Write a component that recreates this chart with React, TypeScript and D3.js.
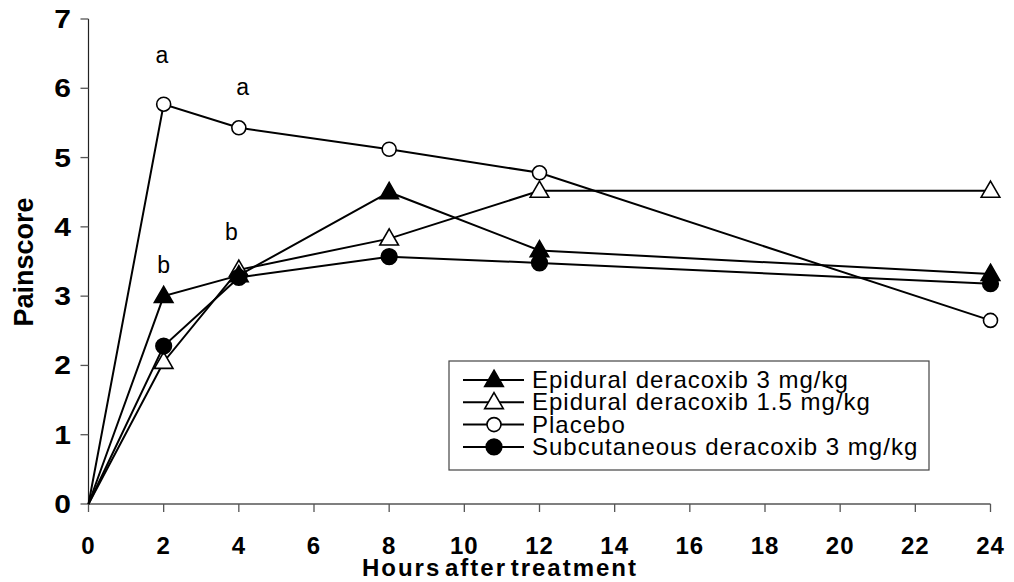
import React from "react";
import * as d3 from "d3";

const hours = [0, 2, 4, 8, 12, 24];
const epidural3 = [0, 3.0, 3.3, 4.5, 3.66, 3.32];
const epidural15 = [0, 2.05, 3.38, 3.83, 4.52, 4.52];
const placebo = [0, 5.77, 5.43, 5.12, 4.78, 2.65];
const subcutaneous = [0, 2.28, 3.27, 3.57, 3.48, 3.18];

const xTicks = [0, 2, 4, 6, 8, 10, 12, 14, 16, 18, 20, 22, 24];
const yTicks = [0, 1, 2, 3, 4, 5, 6, 7];

const annotations = [
  { label: "a", hour: 1.95, value: 6.36 },
  { label: "a", hour: 4.1, value: 5.91 },
  { label: "b", hour: 2.0, value: 3.33 },
  { label: "b", hour: 3.8, value: 3.81 },
];

type Marker = "triUp" | "triOpen" | "circOpen" | "circFilled";
const series: { name: string; values: number[]; marker: Marker }[] = [
  { name: "Placebo", values: placebo, marker: "circOpen" },
  { name: "Epidural deracoxib 1.5 mg/kg", values: epidural15, marker: "triOpen" },
  { name: "Epidural deracoxib 3 mg/kg", values: epidural3, marker: "triUp" },
  { name: "Subcutaneous deracoxib 3 mg/kg", values: subcutaneous, marker: "circFilled" },
];
const legendOrder = [
  "Epidural deracoxib 3 mg/kg",
  "Epidural deracoxib 1.5 mg/kg",
  "Placebo",
  "Subcutaneous deracoxib 3 mg/kg",
];

const FONT = "Arial, 'Liberation Sans', sans-serif";

function MarkerShape({ type, cx, cy }: { type: Marker; cx: number; cy: number }) {
  if (type === "circOpen" || type === "circFilled") {
    return (
      <circle
        cx={cx}
        cy={cy}
        r={type === "circOpen" ? 7 : 7.8}
        fill={type === "circOpen" ? "#fff" : "#000"}
        stroke="#000"
        strokeWidth={1.6}
      />
    );
  }
  const sym = d3.symbol().type(d3.symbolTriangle).size(150)();
  return (
    <path
      d={sym || ""}
      transform={`translate(${cx},${cy + 1})`}
      fill={type === "triUp" ? "#000" : "#fff"}
      stroke="#000"
      strokeWidth={1.6}
    />
  );
}

export default function App() {
  const x = d3.scaleLinear().domain([0, 24]).range([88.5, 990.5]);
  const y = d3.scaleLinear().domain([0, 7]).range([504, 19]);
  const line = d3
    .line<[number, number]>()
    .x((d) => x(d[0]))
    .y((d) => y(d[1]));

  const legendX = 449;
  const legendY = 361;
  const legendW = 480;
  const legendH = 109;
  const rowY = (i: number) => legendY + 19 + i * 22.3;

  return (
    <svg
      width={1014}
      height={582}
      style={{ position: "absolute", left: 0, top: 0, background: "#fff" }}
      fontFamily={FONT}
    >
      <rect x={0} y={0} width={1014} height={582} fill="#fff" />
      {/* axes */}
      <line x1={x(0)} x2={x(0)} y1={y(7)} y2={y(0)} stroke="#222" strokeWidth={1.2} />
      <line x1={x(0)} x2={x(24)} y1={y(0)} y2={y(0)} stroke="#555" strokeWidth={1.5} />
      {yTicks.map((t) => (
        <g key={"y" + t}>
          <line x1={x(0) - 8} x2={x(0)} y1={y(t)} y2={y(t)} stroke="#555" strokeWidth={1.3} />
          <text
            x={71}
            y={y(t) + 9}
            textAnchor="end"
            fontSize={25}
            fontWeight="bold"
            transform={`translate(${71 * -0.2},0) scale(1.2,1)`}
          >
            {t}
          </text>
        </g>
      ))}
      {xTicks.map((t) => (
        <g key={"x" + t}>
          <line x1={x(t)} x2={x(t)} y1={y(0)} y2={y(0) + 8} stroke="#555" strokeWidth={1.3} />
          <text
            x={x(t)}
            y={554}
            textAnchor="middle"
            fontSize={24}
            fontWeight="bold"
            letterSpacing={1}
          >
            {t}
          </text>
        </g>
      ))}
      <text
        x={500}
        y={576}
        textAnchor="middle"
        fontSize={24}
        fontWeight="bold"
        letterSpacing={2}
        wordSpacing={-5}
      >
        Hours after treatment
      </text>
      <text
        transform={`translate(33,262) rotate(-90)`}
        textAnchor="middle"
        fontSize={27}
        fontWeight="bold"
      >
        Painscore
      </text>

      {/* lines */}
      {series.map((s) => (
        <path
          key={s.name + "l"}
          d={line(hours.map((h, i) => [h, s.values[i]] as [number, number])) || ""}
          fill="none"
          stroke="#000"
          strokeWidth={2}
        />
      ))}
      {series.map((s) => (
        <g key={s.name + "m"}>
          {hours.slice(1).map((h, i) => (
            <MarkerShape key={h} type={s.marker} cx={x(h)} cy={y(s.values[i + 1])} />
          ))}
        </g>
      ))}

      {/* annotations */}
      {annotations.map((a, i) => (
        <text key={"a" + i} x={x(a.hour)} y={y(a.value)} textAnchor="middle" fontSize={23}>
          {a.label}
        </text>
      ))}

      {/* legend */}
      <rect x={legendX} y={legendY} width={legendW} height={legendH} fill="#fff" stroke="#444" strokeWidth={1.2} />
      {legendOrder.map((name, i) => {
        const s = series.find((d) => d.name === name)!;
        const cy = rowY(i);
        return (
          <g key={"lg" + i}>
            <line x1={463} x2={524} y1={cy} y2={cy} stroke="#000" strokeWidth={2} />
            <MarkerShape type={s.marker} cx={494} cy={cy} />
            <text x={532} y={cy + 8} fontSize={24} letterSpacing={1}>
              {name}
            </text>
          </g>
        );
      })}
    </svg>
  );
}
